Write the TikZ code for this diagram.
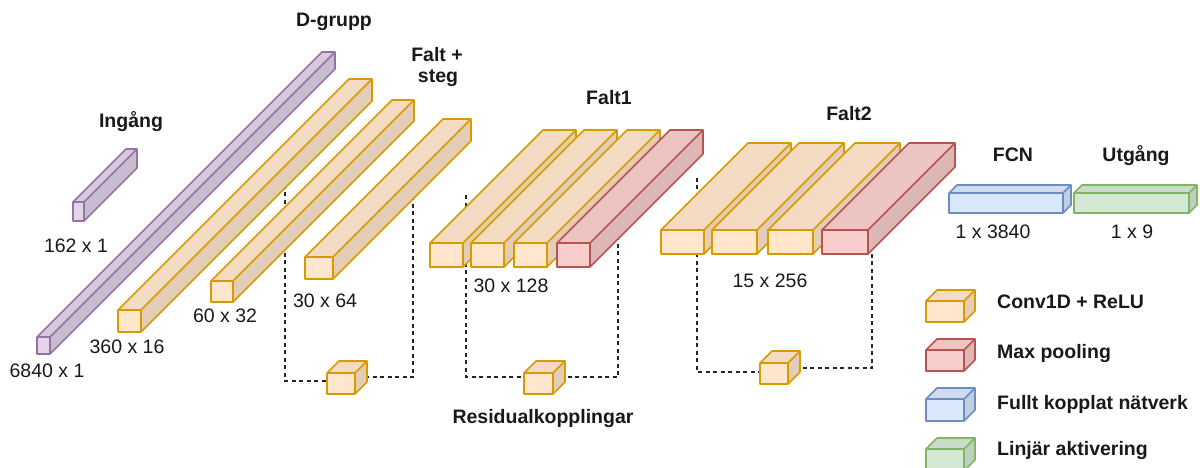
\documentclass[tikz,border=0pt]{standalone}
\usepackage{fontspec}
\setmainfont{Liberation Sans}
\definecolor{purF}{HTML}{E1D5E7}\definecolor{purS}{HTML}{9673A6}
\definecolor{oraF}{HTML}{FFE6CC}\definecolor{oraS}{HTML}{D79B00}
\definecolor{redF}{HTML}{F8CECC}\definecolor{redS}{HTML}{B85450}
\definecolor{bluF}{HTML}{DAE8FC}\definecolor{bluS}{HTML}{6C8EBF}
\definecolor{grnF}{HTML}{D5E8D4}\definecolor{grnS}{HTML}{82B366}
% #1 name, #2 x0, #3 y0 (front top-left), #4 x1, #5 y1 (front bottom-right), #6 depth, #7 fill, #8 stroke
\newcommand\cuboid[8]{%
  \coordinate (#1-tl) at (#2,#3);
  \coordinate (#1-br) at (#4,#5);
  \coordinate (#1-bl) at (#2,#5);
  \coordinate (#1-tr) at (#4,#3);
  \fill[#7!95!black] (#2,#3) -- ({#2+#6},{#3-#6}) -- ({#4+#6},{#3-#6}) -- (#4,#3) -- cycle;
  \fill[#7!89!black] (#4,#3) -- ({#4+#6},{#3-#6}) -- ({#4+#6},{#5-#6}) -- (#4,#5) -- cycle;
  \fill[#7] (#2,#3) rectangle (#4,#5);
  \draw[cubeline,#8] (#2,#5) -- (#2,#3) -- ({#2+#6},{#3-#6}) -- ({#4+#6},{#3-#6}) -- ({#4+#6},{#5-#6}) -- (#4,#5) -- cycle;
  \draw[cubeline,#8] (#2,#3) -- (#4,#3) -- (#4,#5) (#4,#3) -- ({#4+#6},{#3-#6});
}
\tikzset{
  cubeline/.style={line width=1.6pt, line join=round},
  resline/.style={dashed, line width=1.3pt, dash pattern=on 4pt off 3.5pt, black!85},
  lbl/.style={anchor=base, inner sep=0pt, font=\fontsize{19.5}{22}\selectfont, text=black!90},
  ttl/.style={lbl, font=\fontsize{19.5}{22}\selectfont\bfseries},
  leg/.style={ttl, anchor=base west}
}
\begin{document}
\begin{tikzpicture}[x=1pt,y=-1pt]
\useasboundingbox (0,0) rectangle (1200,468);
\begin{scope}
\clip (0,0) rectangle (1200,468);
% dashed residual connections (behind the blocks)
\coordinate (r1a) at (285,185); \coordinate (r1b) at (285,381);
\coordinate (r1c) at (413,377); \coordinate (r1d) at (413,190);
\coordinate (r2a) at (466,195); \coordinate (r2b) at (466,377);
\coordinate (r2c) at (618,377); \coordinate (r2d) at (618,235);
\coordinate (r3a) at (697,178); \coordinate (r3b) at (697,372);
\coordinate (r3c) at (872,368); \coordinate (r3d) at (872,245);
\draw[resline] (r1a) -- (r1b) -- (340,381);
\draw[resline] (350,377) -- (r1c) -- (r1d);
\draw[resline] (r2a) -- (r2b) -- (535,377);
\draw[resline] (545,377) -- (r2c) -- (r2d);
\draw[resline] (r3a) -- (r3b) -- (770,372);
\draw[resline] (780,368) -- (r3c) -- (r3d);
% input
\cuboid{inp}{73}{202}{84}{221}{53}{purF}{purS}
% D-grupp
\cuboid{dg}{37}{337}{50}{354}{285}{purF}{purS}
\cuboid{c16}{118}{310}{141}{332}{231}{oraF}{oraS}
\cuboid{c32}{211}{281}{233}{302}{181}{oraF}{oraS}
\cuboid{c64}{305}{257}{333}{279}{138}{oraF}{oraS}
% Falt1
\cuboid{fa1}{430}{243}{463}{267}{113}{oraF}{oraS}
\cuboid{fa2}{471}{243}{504}{267}{113}{oraF}{oraS}
\cuboid{fa3}{514}{243}{547}{267}{113}{oraF}{oraS}
\cuboid{fa4}{557}{243}{590}{267}{113}{redF}{redS}
% Falt2
\cuboid{fb1}{661}{230}{704}{254}{87}{oraF}{oraS}
\cuboid{fb2}{712}{230}{757}{254}{87}{oraF}{oraS}
\cuboid{fb3}{768}{230}{813}{254}{87}{oraF}{oraS}
\cuboid{fb4}{822}{230}{868}{254}{87}{redF}{redS}
% FCN and output
\cuboid{fcn}{949}{193}{1063}{213}{8}{bluF}{bluS}
\cuboid{out}{1074}{193}{1189}{213}{8}{grnF}{grnS}
% residual blocks
\cuboid{res1}{327}{373}{355}{394}{12}{oraF}{oraS}
\cuboid{res2}{524}{373}{553}{394}{12}{oraF}{oraS}
\cuboid{res3}{760}{363}{788}{384}{12}{oraF}{oraS}
% legend
\cuboid{lg1}{926}{301}{964}{322}{11}{oraF}{oraS}
\cuboid{lg2}{926}{350}{964}{371}{11}{redF}{redS}
\cuboid{lg3}{926}{399}{964}{421}{11}{bluF}{bluS}
\cuboid{lg4}{926}{449}{964}{471}{11}{grnF}{grnS}
\end{scope}
% titles
\node[ttl] (tD) at (334,27) {D-grupp};
\node[ttl] (tF1) at (437,62) {Falt +};
\node[ttl] (tF2) at (438,83) {steg};
\node[ttl] (tIn) at (131,128) {Ingång};
\node[ttl] (tFa1) at (609,105) {Falt1};
\node[ttl] (tFa2) at (849,121) {Falt2};
\node[ttl] (tFCN) at (1013,161) {FCN};
\node[ttl] (tUt) at (1136,161) {Utgång};
\node[ttl] (tRes) at (543,423) {Residualkopplingar};
% sizes
\node[lbl] (s1) at (76,252) {162 x 1};
\node[lbl] (s2) at (47,377) {6840 x 1};
\node[lbl] (s3) at (127,353) {360 x 16};
\node[lbl] (s4) at (225,322) {60 x 32};
\node[lbl] (s5) at (325,307) {30 x 64};
\node[lbl] (s6) at (511,292) {30 x 128};
\node[lbl] (s7) at (770,287) {15 x 256};
\node[lbl] (s8) at (993,238) {1 x 3840};
\node[lbl] (s9) at (1132,238) {1 x 9};
% legend texts
\node[leg] (l1) at (997,308) {Conv1D + ReLU};
\node[leg] (l2) at (997,358) {Max pooling};
\node[leg] (l3) at (997,409) {Fullt kopplat nätverk};
\node[leg] (l4) at (997,455) {Linjär aktivering};
\end{tikzpicture}
\end{document}
